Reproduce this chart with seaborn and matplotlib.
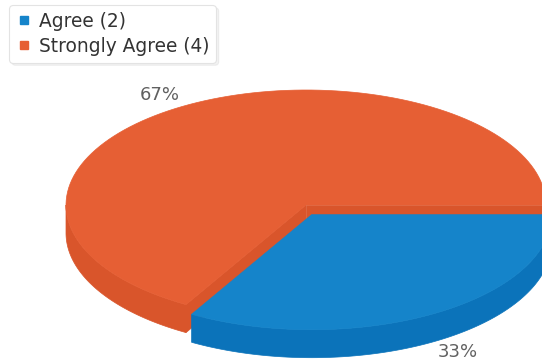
import numpy as np
import matplotlib
matplotlib.use("Agg")
import matplotlib.pyplot as plt
import seaborn as sns
from matplotlib.patches import Polygon
from matplotlib.lines import Line2D

# Survey answers
labels = ["Agree", "Strongly Agree"]
counts = [2, 4]
top_colors = ["#1584CA", "#E65F34"]
side_colors = ["#0B73BA", "#D9552B"]
exploded = [True, False]

sns.set_theme(style="white")
plt.rcParams["font.family"] = ["DejaVu Sans"]

fig = plt.figure(figsize=(5.42, 3.63), dpi=100)
ax = fig.add_axes([0, 0, 1, 1])
ax.set_xlim(0, 542)
ax.set_ylim(363, 0)
ax.axis("off")

# tilted-disc geometry (screen units, y grows downward)
cx, cy = 306, 205
rx, ry = 240, 115
depth = 28
explode_shift = 14


def pt(theta, ox=0.0, oy=0.0, z=0.0):
    return (cx + ox + rx * np.cos(theta), cy + oy + ry * np.sin(theta) + z)


def arc(t0, t1, ox, oy, z=0.0, n=120):
    ts = np.linspace(t0, t1, n)
    return [pt(t, ox, oy, z) for t in ts]


total = float(sum(counts))
fracs = [c / total for c in counts]
bounds = np.concatenate([[0.0], np.cumsum(fracs)]) * 2 * np.pi

# draw back slices first, exploded slice last
order = sorted(range(len(counts)), key=lambda i: exploded[i])
for i in order:
    t0, t1 = bounds[i], bounds[i + 1]
    mid = 0.5 * (t0 + t1)
    if exploded[i]:
        ox = explode_shift * np.cos(mid) * 0.8
        oy = explode_shift * np.sin(mid) * 0.8
    else:
        ox = oy = 0.0
    c = (cx + ox, cy + oy)

    # radial faces that face the viewer
    for edge, facing in ((t0, np.sin(t0 - np.pi / 2)), (t1, np.sin(t1 + np.pi / 2))):
        if facing > 1e-6:
            e = pt(edge, ox, oy)
            quad = [c, e, (e[0], e[1] + depth), (c[0], c[1] + depth)]
            ax.add_patch(Polygon(quad, closed=True, facecolor=side_colors[i],
                                 edgecolor=side_colors[i], lw=0.5))

    # outer wall on the front half of the disc
    segs = []
    for a, b in ((0.0, np.pi), (2 * np.pi, 3 * np.pi)):
        lo, hi = max(t0, a), min(t1, b)
        if hi > lo:
            segs.append((lo, hi))
    for lo, hi in segs:
        wall = arc(lo, hi, ox, oy) + arc(hi, lo, ox, oy, depth)
        ax.add_patch(Polygon(wall, closed=True, facecolor=side_colors[i],
                             edgecolor=side_colors[i], lw=0.5))

    # top face
    face = [c] + arc(t0, t1, ox, oy)
    ax.add_patch(Polygon(face, closed=True, facecolor=top_colors[i],
                         edgecolor=top_colors[i], lw=0.5))

    # percentage label
    lx = c[0] + 1.22 * rx * np.cos(mid)
    ly = c[1] + 1.10 * ry * np.sin(mid) + (depth if np.sin(mid) > 0 else 0)
    ax.text(lx, ly, f"{fracs[i] * 100:.0f}%", ha="center", va="center",
            fontsize=13, color="#606060")

handles = [Line2D([], [], marker="s", linestyle="", markersize=5.5,
                  color=top_colors[i]) for i in range(len(counts))]
leg_labels = [f"{labels[i]} ({counts[i]})" for i in range(len(counts))]
leg = ax.legend(handles, leg_labels, loc="upper left",
                bbox_to_anchor=(9 / 542, 1 - 5 / 363),
                bbox_transform=fig.transFigure, borderaxespad=0,
                fontsize=13.4, frameon=True, fancybox=True,
                handlelength=0.9, handletextpad=0.34, labelspacing=0.33,
                borderpad=0.36, framealpha=1.0,
                shadow={"color": "#000000", "alpha": 0.05})
leg.get_frame().set_edgecolor("#e3e3e3")
leg.get_frame().set_linewidth(0.8)
for t in leg.get_texts():
    t.set_color("#333333")

fig.savefig("out.png", dpi=100)
